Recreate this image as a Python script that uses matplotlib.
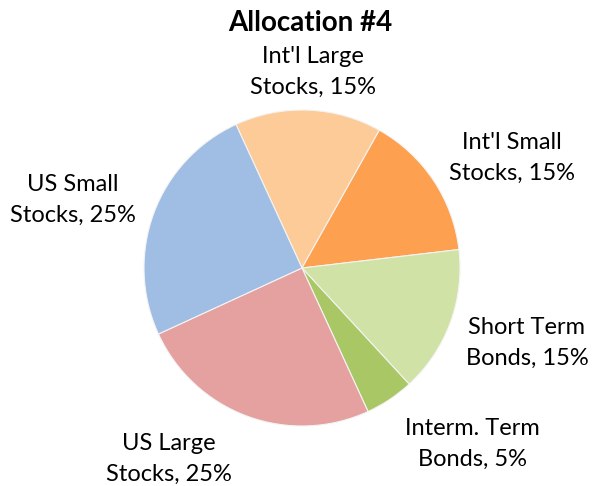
import matplotlib
matplotlib.use('Agg')
import matplotlib.pyplot as plt

# slice data, clockwise from the upper-left edge of "Int'l Large"
labels = ["Int'l Large\nStocks, 15%", "Int'l Small\nStocks, 15%", "Short Term\nBonds, 15%",
          "Interm. Term\nBonds, 5%", "US Large\nStocks, 25%", "US Small\nStocks, 25%"]
shares = [15, 15, 15, 5, 25, 25]
colors = ['#FCCB98', '#FDA04F', '#D1E2A7', '#A9C865', '#E4A19F', '#A0BDE3']

# label centres, in units of the pie radius
label_pos = [(0.070, 1.241), (1.329, 0.696), (1.424, -0.475),
             (1.076, -1.114), (-0.842, -1.209), (-1.449, 0.430)]

W, H = 592, 486
cx, cy, r = 302, 268, 158

plt.rcParams['font.family'] = ['Lato', 'DejaVu Sans']

fig = plt.figure(figsize=(W / 100, H / 100), dpi=100)
ax = fig.add_axes([0, 0, 1, 1])

wedges, texts = ax.pie(shares, labels=labels, colors=colors, startangle=114.7, counterclock=False,
                       wedgeprops=dict(edgecolor='#F4F4F4', linewidth=0.8),
                       textprops=dict(fontsize=17, color='#000000', ha='center', va='center',
                                      multialignment='center', linespacing=1.6))

for t, (x, y) in zip(texts, label_pos):
    t.set_position((x, y))
    t.set_ha('center')
    t.set_va('center')

ax.set_xlim(-cx / r, (W - cx) / r)
ax.set_ylim(-(H - cy) / r, cy / r)
ax.set_aspect('auto')
ax.axis('off')

fig.text(310 / W, 1 - 23 / H, 'Allocation #4', ha='center', va='center',
         fontsize=20, fontweight='bold')

fig.savefig('out.png', dpi=100, facecolor='white')
